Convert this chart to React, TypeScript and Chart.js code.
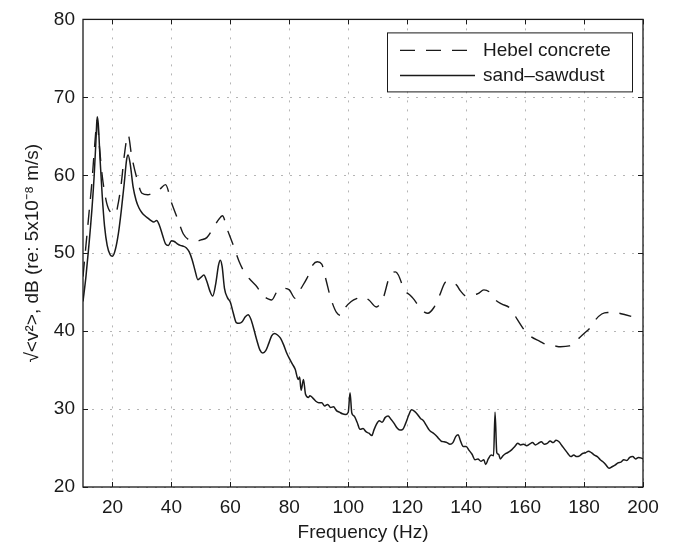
import React, { useEffect, useRef } from "react";
import { Chart, registerables } from "chart.js";

Chart.register(...registerables);

// ---------------- data ----------------
const seriesLabels = ["Hebel concrete", "sand\u2013sawdust"];

const hebelFreq = [
  10, 11, 12, 13, 14, 14.8, 15.5, 16.5, 18, 19.5, 21, 22, 23, 24, 25.3, 26.5, 28, 30, 32, 34, 36, 38,
  40, 42, 44, 46, 48, 50, 52, 54, 56, 57.3, 59, 61, 63, 65, 67, 69, 71, 73, 74, 76, 78, 80, 82, 84, 86,
  88, 89.5, 91, 92.5, 94, 96, 97.8, 99, 101, 103, 105, 107, 109.5, 111, 112, 114, 116, 117, 119, 121,
  122, 124, 126, 127, 129, 131, 133, 134.5, 136.8, 138, 140, 142, 144, 146, 148, 150, 152, 155, 157.5,
  160, 162, 165, 167, 170, 172, 175, 178, 180, 182, 184, 186, 188, 190, 192, 194, 196,
];
const hebelDb = [
  47, 51, 55, 59, 64, 67, 64, 60, 56.5, 55.2, 55, 56.5, 59, 62.5, 65.2, 62.5, 60, 57.7, 57.5, 57.8, 58.2,
  58.8, 56.5, 54.5, 52.5, 51.7, 51.5, 51.7, 52, 53.1, 54.3, 54.8, 53, 51, 48.9, 47.4, 46.5, 45.7, 44.6,
  44.1, 44, 45.2, 45.5, 45.3, 44.2, 45.5, 46.8, 48.5, 48.9, 48.6, 46.5, 44.3, 42.4, 42, 43, 43.8, 44.2,
  44.4, 44, 43.1, 43.6, 44.4, 47, 47.6, 47.2, 45.3, 44.6, 44.2, 43.2, 42.4, 42.3, 43, 44.6, 46.3, 46.4,
  45.9, 45.2, 44.5, 44.6, 44.8, 45.3, 45, 44, 43.5, 42.9, 41.4, 40, 39.3, 38.7, 38.3, 38.1, 38, 38.1, 39,
  39.7, 40.4, 41.5, 42.2, 42.4, 42.4, 42.3, 42.1, 41.9,
];

const sawdustFreq = [
  10, 11, 12, 13, 13.8, 14.4, 14.8, 15.2, 15.8, 16.5, 17.3, 18.2, 19.2, 20, 21, 22, 23, 24, 24.8, 25.3,
  26, 27, 28, 29, 30, 31, 32, 33, 34, 35, 36, 37, 38, 39, 40, 41, 42, 43, 44, 45, 46, 47, 48, 49, 50, 51,
  52, 53, 54, 55, 56, 56.6, 57.2, 58, 59, 60, 61, 62, 63, 64, 65, 66, 67, 68, 69, 70, 71, 72, 73, 74, 75,
  76, 77, 78, 79, 80, 81, 82, 83, 83.5, 84, 84.8, 85.5, 86.5, 87, 88, 89, 90, 91, 92, 93, 94, 95, 96, 97,
  98, 99, 100, 100.6, 101.2, 102, 103, 104, 105, 106, 107, 108, 108.7, 109.5, 110.5, 111.5, 112.5,
  113.5, 114.5, 115.5, 116.5, 117.5, 118.5, 119.5, 120.5, 121.5, 122.5, 123.5, 124.5, 125.5, 126.5,
  127.5, 128.5, 129.5, 130.5, 131.5, 132.5, 133.5, 134.5, 135.5, 136.5, 137.3, 138, 139, 140, 141, 142,
  143, 144, 145, 146, 146.6, 147.5, 148.5, 149.3, 149.8, 150.4, 151, 151.6, 152.5, 153.5, 154.5, 155.5,
  156.5, 157.5, 158.5, 159.5, 160.5, 161.5, 162.5, 163.5, 164.5, 165.5, 166.5, 167.5, 168.5, 169.5,
  170.5, 171.5, 172.5, 173.5, 174.5, 175.5, 176.5, 177.5, 178.5, 179.5, 180.5, 181.5, 182.5, 183.5,
  184.5, 185.5, 186.5, 187.5, 188.5, 189.5, 190.5, 191.5, 192.5, 193.5, 194.5, 195.5, 196.5, 197.5,
  198.5, 199.5, 200,
];
const sawdustDb = [
  43.8, 47, 51, 55.5, 60, 64.5, 67.5, 66.5, 62, 57.5, 53.5, 51, 49.8, 49.6, 50.5, 52.5, 55.5, 59, 62,
  62.6, 61.5, 58.5, 56.8, 55.8, 55.2, 54.8, 54.5, 54.2, 54, 54.2, 53.5, 52.3, 51.2, 51, 51.6, 51.5, 51.2,
  51, 50.9, 50.7, 50.2, 49.2, 47.8, 46.6, 46.9, 47.2, 46.4, 45.2, 44.5, 46, 48.5, 49.1, 48.3, 45.5, 44.3,
  43.7, 42.3, 41.1, 41, 41.2, 41.8, 42.1, 41.5, 40.2, 38.8, 37.6, 37.2, 37.5, 38.4, 39.4, 39.7, 39.5,
  39.1, 38.3, 37.3, 36.5, 35.8, 35.1, 33.8, 34.1, 32.4, 33.8, 31.9, 31.5, 31.7, 31.4, 31, 30.8, 30.8,
  30.4, 30.6, 30.2, 30.3, 29.8, 29.6, 29.4, 29.3, 29.6, 32.1, 29.5, 29.1, 28.3, 27.4, 27.5, 27.1, 26.9,
  26.6, 27.3, 28, 28.5, 28.3, 28.9, 29.1, 28.7, 28.2, 27.6, 27.3, 27.4, 28.2, 29.2, 29.9, 29.7, 29.3,
  28.8, 28.5, 27.9, 27.3, 27, 26.7, 26.3, 25.9, 25.8, 25.7, 25.5, 25.7, 26.5, 26.7, 26, 25.2, 25.2, 24.7,
  24.2, 23.5, 23.6, 23.3, 23.5, 22.9, 23.6, 24.1, 24, 29.6, 24.4, 24.2, 23.6, 24, 24.3, 24.5, 24.8, 25.2,
  25.6, 25.4, 25.5, 25.3, 25.5, 25.7, 25.4, 25.6, 25.8, 25.5, 25.6, 25.9, 25.7, 26, 25.8, 25.3, 24.8,
  24.3, 23.9, 24.1, 23.9, 24, 24.3, 24.4, 24.6, 24.4, 24.1, 23.9, 23.5, 23.2, 22.8, 22.4, 22.6, 22.8,
  23.1, 23.2, 23.5, 23.4, 23.8, 23.9, 23.6, 23.8, 23.7, 23.6,
];

const xTicks = [20, 40, 60, 80, 100, 120, 140, 160, 180, 200];
const yTicks = [20, 30, 40, 50, 60, 70, 80];
const xTitle = "Frequency (Hz)";
const yTitle = "\u221A<v\u00B2>, dB (re: 5x10\u207B\u2078 m/s)";

// ---------------- style ----------------
const FONT = "'Liberation Sans', Arial, Helvetica, sans-serif";
const INK = "#1a1a1a";
const DASH = [15, 11];

const framePlugin = {
  id: "frame",
  afterDraw(chart: any) {
    const { ctx, chartArea: a, scales } = chart;
    ctx.save();
    ctx.strokeStyle = INK;
    ctx.lineWidth = 1.3;
    ctx.setLineDash([]);
    ctx.strokeRect(a.left, a.top, a.right - a.left, a.bottom - a.top);
    const tl = 5;
    ctx.beginPath();
    xTicks.forEach((v) => {
      const px = Math.round(scales.x.getPixelForValue(v)) + 0.5;
      ctx.moveTo(px, a.bottom);
      ctx.lineTo(px, a.bottom - tl);
      ctx.moveTo(px, a.top);
      ctx.lineTo(px, a.top + tl);
    });
    yTicks.forEach((v) => {
      const py = Math.round(scales.y.getPixelForValue(v)) + 0.5;
      ctx.moveTo(a.left, py);
      ctx.lineTo(a.left + tl, py);
      ctx.moveTo(a.right, py);
      ctx.lineTo(a.right - tl, py);
    });
    ctx.lineWidth = 1;
    ctx.stroke();
    ctx.restore();
  },
};

const legendPlugin = {
  id: "boxLegend",
  afterDraw(chart: any) {
    const { ctx, chartArea: a } = chart;
    const w = 245;
    const h = 59;
    const x0 = a.right - 11 - w;
    const y0 = a.top + 13;
    ctx.save();
    ctx.fillStyle = "#ffffff";
    ctx.fillRect(x0, y0, w, h);
    ctx.strokeStyle = INK;
    ctx.lineWidth = 1;
    ctx.setLineDash([]);
    ctx.strokeRect(x0 + 0.5, y0 + 0.5, w, h);
    ctx.font = `19px ${FONT}`;
    ctx.textBaseline = "middle";
    ctx.textAlign = "left";
    ctx.fillStyle = INK;
    const rows = [y0 + 18, y0 + 43];
    chart.data.datasets.forEach((ds: any, i: number) => {
      const y = rows[i];
      ctx.beginPath();
      ctx.setLineDash(ds.borderDash || []);
      ctx.lineWidth = ds.borderWidth;
      ctx.strokeStyle = ds.borderColor;
      ctx.moveTo(x0 + 13, y);
      ctx.lineTo(x0 + 88, y);
      ctx.stroke();
      ctx.setLineDash([]);
      ctx.fillText(ds.label, x0 + 96, y);
    });
    ctx.restore();
  },
};

export default function App() {
  const canvasRef = useRef<HTMLCanvasElement | null>(null);

  useEffect(() => {
    document.body.style.margin = "0";
    const canvas = canvasRef.current;
    if (!canvas) return;
    const chart = new Chart(canvas, {
      type: "line",
      data: {
        datasets: [
          {
            label: seriesLabels[0],
            data: hebelFreq.map((f, i) => ({ x: f, y: hebelDb[i] })),
            borderColor: INK,
            borderWidth: 1.4,
            borderDash: DASH,
            pointRadius: 0,
            fill: false,
            cubicInterpolationMode: "monotone",
          },
          {
            label: seriesLabels[1],
            data: sawdustFreq.map((f, i) => ({ x: f, y: sawdustDb[i] })),
            borderColor: INK,
            borderWidth: 1.5,
            pointRadius: 0,
            fill: false,
            cubicInterpolationMode: "monotone",
          },
        ],
      },
      options: {
        animation: false,
        responsive: false,
        devicePixelRatio: 1,
        layout: { padding: { top: 15, right: 32, left: 0, bottom: 0 } },
        plugins: {
          legend: { display: false },
          tooltip: { enabled: false },
        },
        scales: {
          x: {
            type: "linear",
            min: 10,
            max: 200,
            afterBuildTicks: (s: any) => {
              s.ticks = xTicks.map((v) => ({ value: v }));
            },
            afterFit: (s: any) => {
              s.height = 59;
            },
            grid: { color: "#b5b5b5", lineWidth: 1, drawTicks: false },
            border: { display: false, dash: [2, 7] },
            ticks: {
              padding: 9,
              color: INK,
              font: { family: FONT, size: 19 },
              maxRotation: 0,
              autoSkip: false,
            },
            title: {
              display: true,
              text: xTitle,
              color: INK,
              font: { family: FONT, size: 19 },
              padding: { top: 0, bottom: 2 },
            },
          },
          y: {
            type: "linear",
            min: 20,
            max: 80,
            afterBuildTicks: (s: any) => {
              s.ticks = yTicks.map((v) => ({ value: v }));
            },
            afterFit: (s: any) => {
              s.width = 83;
            },
            grid: { color: "#b5b5b5", lineWidth: 1, drawTicks: false },
            border: { display: false, dash: [2, 7] },
            ticks: {
              padding: 8,
              color: INK,
              font: { family: FONT, size: 19 },
              autoSkip: false,
            },
            title: {
              display: true,
              text: yTitle,
              color: INK,
              font: { family: FONT, size: 19 },
              padding: { top: 21, bottom: 0 },
            },
          },
        },
      },
      plugins: [framePlugin, legendPlugin],
    } as any);
    return () => chart.destroy();
  }, []);

  return (
    <div style={{ width: 675, height: 546, background: "#fff" }}>
      <canvas ref={canvasRef} width={675} height={546} style={{ display: "block" }} />
    </div>
  );
}
